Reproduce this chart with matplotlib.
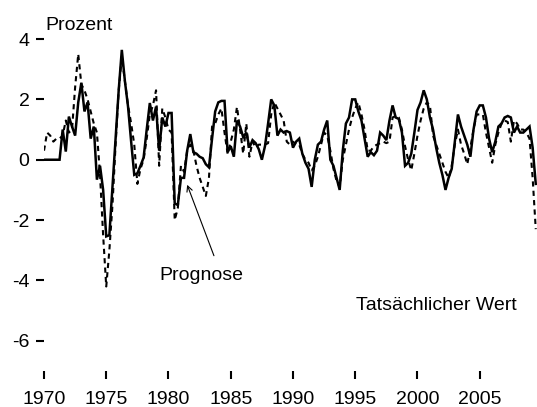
import numpy as np
import matplotlib
matplotlib.use("Agg")
import matplotlib.pyplot as plt

# quarterly values, one row per year (Q1..Q4)
actual = [
    0, 0, 0, 0,
    0, 0, 1.0, 0.27,
    1.43, 1.1, 0.8, 1.9,
    2.55, 1.6, 1.9, 0.7,
    1.1, -0.66, -0.2, -1.0,
    -2.54, -2.5, -0.9, 0.7,
    2.3, 3.64, 2.6, 1.76,
    0.6, -0.5, -0.45, -0.2,
    0.07, 1.0, 1.88, 1.3,
    1.76, 0.3, 1.4, 1.1,
    1.55, 1.55, -1.45, -1.5,
    -0.6, -0.6, 0.3, 0.85,
    0.25, 0.2, 0.1, 0.05,
    -0.15, -0.25, 0.7, 1.6,
    1.9, 1.95, 1.95, 0.25,
    0.45, 0.1, 1.3, 1.1,
    0.75, 0.9, 0.4, 0.65,
    0.55, 0.35, 0.0, 0.45,
    1.2, 2.0, 1.8, 0.8,
    1.0, 0.9, 0.95, 0.9,
    0.4, 0.6, 0.7, 0.2,
    -0.1, -0.3, -0.9, 0.0,
    0.5, 0.6, 1.0, 1.3,
    0.0, -0.2, -0.6, -1.0,
    0.3, 1.2, 1.4, 2.0,
    2.0, 1.6, 1.3, 0.7,
    0.1, 0.25, 0.15, 0.3,
    0.9, 0.8, 0.65, 1.3,
    1.8, 1.4, 1.35, 0.9,
    -0.2, -0.1, 0.2, 0.9,
    1.65, 1.9, 2.3, 2.0,
    1.4, 1.0, 0.4, -0.1,
    -0.5, -1.0, -0.6, -0.3,
    0.6, 1.5, 1.1, 0.8,
    0.5, 0.1, 1.0, 1.6,
    1.8, 1.8, 1.4, 0.7,
    0.25, 0.6, 1.1, 1.2,
    1.4, 1.45, 1.4, 0.9,
    1.1, 0.9, 0.9, 1.0,
    1.1, 0.4, -0.8,
]

forecast = [
    0.3, 0.9, 0.8, 0.6,
    0.7, 0.7, 0.8, 1.3,
    0.9, 1.0, 2.4, 3.5,
    2.5, 2.3, 2.0, 1.6,
    1.2, 0.9, -0.5, -2.5,
    -4.2, -3.0, -1.5, 0.5,
    2.3, 3.4, 2.6, 1.8,
    1.2, 0.5, -0.8, -0.3,
    0.0, 0.7, 1.5, 1.8,
    2.3, -0.2, 1.7, 1.4,
    1.0, 0.9, -2.0, -1.6,
    -0.2, -0.4, 0.3, 0.5,
    0.3, -0.2, -0.6, -0.9,
    -1.2, -0.6, 1.1, 1.2,
    1.5, 1.7, 0.9, 0.2,
    0.6, 1.0, 1.75, 1.0,
    0.2, 1.2, 0.1, 0.6,
    0.4, 0.5, 0.5, 0.5,
    0.55, 1.5, 1.9, 1.7,
    1.5, 1.3, 0.6, 0.5,
    0.6, 0.5, 0.5, 0.2,
    0.0, -0.1, -0.35, -0.2,
    0.1, 0.5, 0.9, 0.8,
    0.3, -0.3, -0.7, -0.9,
    0.0, 0.5, 1.0, 1.4,
    1.7, 1.9, 1.5, 1.0,
    0.3, 0.3, 0.45, 0.5,
    0.55, 0.6, 0.55, 0.6,
    1.4, 1.45, 1.4, 1.0,
    0.45, 0.0, -0.35, 0.2,
    0.8, 1.3, 1.7, 1.9,
    1.8, 0.8, 0.5, 0.2,
    -0.1, -0.4, -0.6, -0.2,
    0.5, 1.0, 0.5, 0.2,
    -0.15, 0.4, 1.0, 1.5,
    1.5, 1.5, 0.9, 0.4,
    -0.1, 0.5, 0.9, 1.2,
    1.3, 1.25, 0.6, 1.3,
    1.2, 1.0, 1.0, 0.9,
    0.7, -0.6, -2.3,
]

start_year = 1970
x_ticks = [1970, 1975, 1980, 1985, 1990, 1995, 2000, 2005]
y_ticks = [4, 2, 0, -2, -4, -6]
y_tick_labels = ["4", "2", "0", "-2", "-4", "-6"]

plt.rcParams["font.family"] = ["Liberation Sans", "DejaVu Sans"]
FS = 14


def main():
    quarters = start_year + np.arange(len(actual)) / 4.0

    fig = plt.figure(figsize=(5.37, 4.07), dpi=100)
    ax = fig.add_axes([44 / 537, 36 / 407, 493 / 537, 335 / 407])

    ax.plot(quarters, actual, color="black", lw=1.8, solid_joinstyle="miter")
    ax.plot(quarters, forecast, color="black", lw=1.5, dashes=(2.5, 2))

    ax.set_xlim(1970, 2009.6)
    ax.set_ylim(-7, 4.1)

    for s in ax.spines.values():
        s.set_visible(False)

    ax.set_xticks(x_ticks)
    ax.set_xticklabels([str(t) for t in x_ticks])
    ax.set_yticks(y_ticks)
    ax.set_yticklabels(y_tick_labels)
    ax.tick_params(axis="both", direction="out", length=5.5, width=1.5,
                   labelsize=FS, color="black")
    ax.tick_params(axis="y", pad=5)
    ax.tick_params(axis="x", pad=9)

    ax.text(1970.1, 4.3, "Prozent", fontsize=FS, ha="left", va="baseline")
    ax.text(1979.3, -4.0, "Prognose", fontsize=FS, ha="left", va="baseline")
    ax.text(1995.1, -4.97, "Tatsächlicher Wert", fontsize=FS,
            ha="left", va="baseline")

    ax.annotate("", xy=(1981.5, -0.83), xytext=(1983.65, -3.18),
                arrowprops=dict(arrowstyle="->", lw=0.8, color="black",
                                shrinkA=0, shrinkB=0))

    fig.savefig("out.png", dpi=100)


if __name__ == "__main__":
    main()
